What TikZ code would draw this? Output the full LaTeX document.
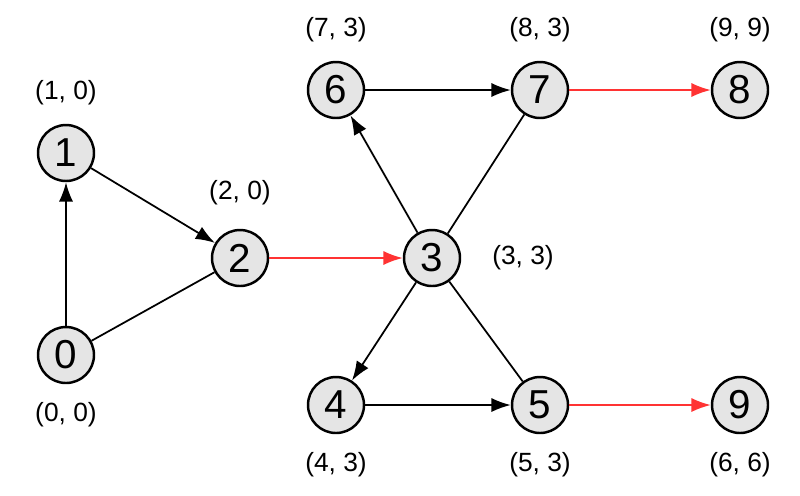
\documentclass[tikz,border=0pt]{standalone}
\usepackage{fontspec}
\setmainfont{Liberation Sans}
\usetikzlibrary{arrows.meta}
\begin{document}
\begin{tikzpicture}[x=0.02cm,y=-0.02cm,
  vtx/.style={circle,draw,line width=1.4pt,fill=black!10,minimum size=1.12cm,inner sep=0pt,font=\fontsize{23}{23}\selectfont},
  lab/.style={font=\fontsize{15}{15}\selectfont},
  arr/.style={-{Latex[length=11pt,width=8pt]},line width=1pt},
  red arr/.style={arr,draw=red!80},
  plain/.style={line width=1pt}]
\useasboundingbox (0,0) rectangle (800,495);
\node[vtx] (n1) at (66,153) {1};
\node[vtx] (n2) at (240,258) {2};
\node[vtx] (n0) at (66,355) {0};
\node[vtx] (n3) at (432,258) {3};
\node[vtx] (n6) at (336,90) {6};
\node[vtx] (n7) at (540,90) {7};
\node[vtx] (n8) at (740,90) {8};
\node[vtx] (n4) at (336,405) {4};
\node[vtx] (n5) at (540,405) {5};
\node[vtx] (n9) at (740,405) {9};
\node[lab] (l1) at (66,93) {(1, 0)};
\node[lab] (l2) at (240,193) {(2, 0)};
\node[lab] (l0) at (66,415) {(0, 0)};
\node[lab] (l3) at (523,258) {(3, 3)};
\node[lab] (l6) at (336,30) {(7, 3)};
\node[lab] (l7) at (540,30) {(8, 3)};
\node[lab] (l8) at (740,30) {(9, 9)};
\node[lab] (l4) at (336,465) {(4, 3)};
\node[lab] (l5) at (540,465) {(5, 3)};
\node[lab] (l9) at (740,465) {(6, 6)};
\draw[arr] (n0) -- (n1);
\draw[arr] (n1) -- (n2);
\draw[plain] (n0) -- (n2);
\draw[red arr] (n2) -- (n3);
\draw[arr] (n3) -- (n6);
\draw[arr] (n6) -- (n7);
\draw[plain] (n7) -- (n3);
\draw[red arr] (n7) -- (n8);
\draw[arr] (n3) -- (n4);
\draw[arr] (n4) -- (n5);
\draw[plain] (n3) -- (n5);
\draw[red arr] (n5) -- (n9);
\end{tikzpicture}
\end{document}
